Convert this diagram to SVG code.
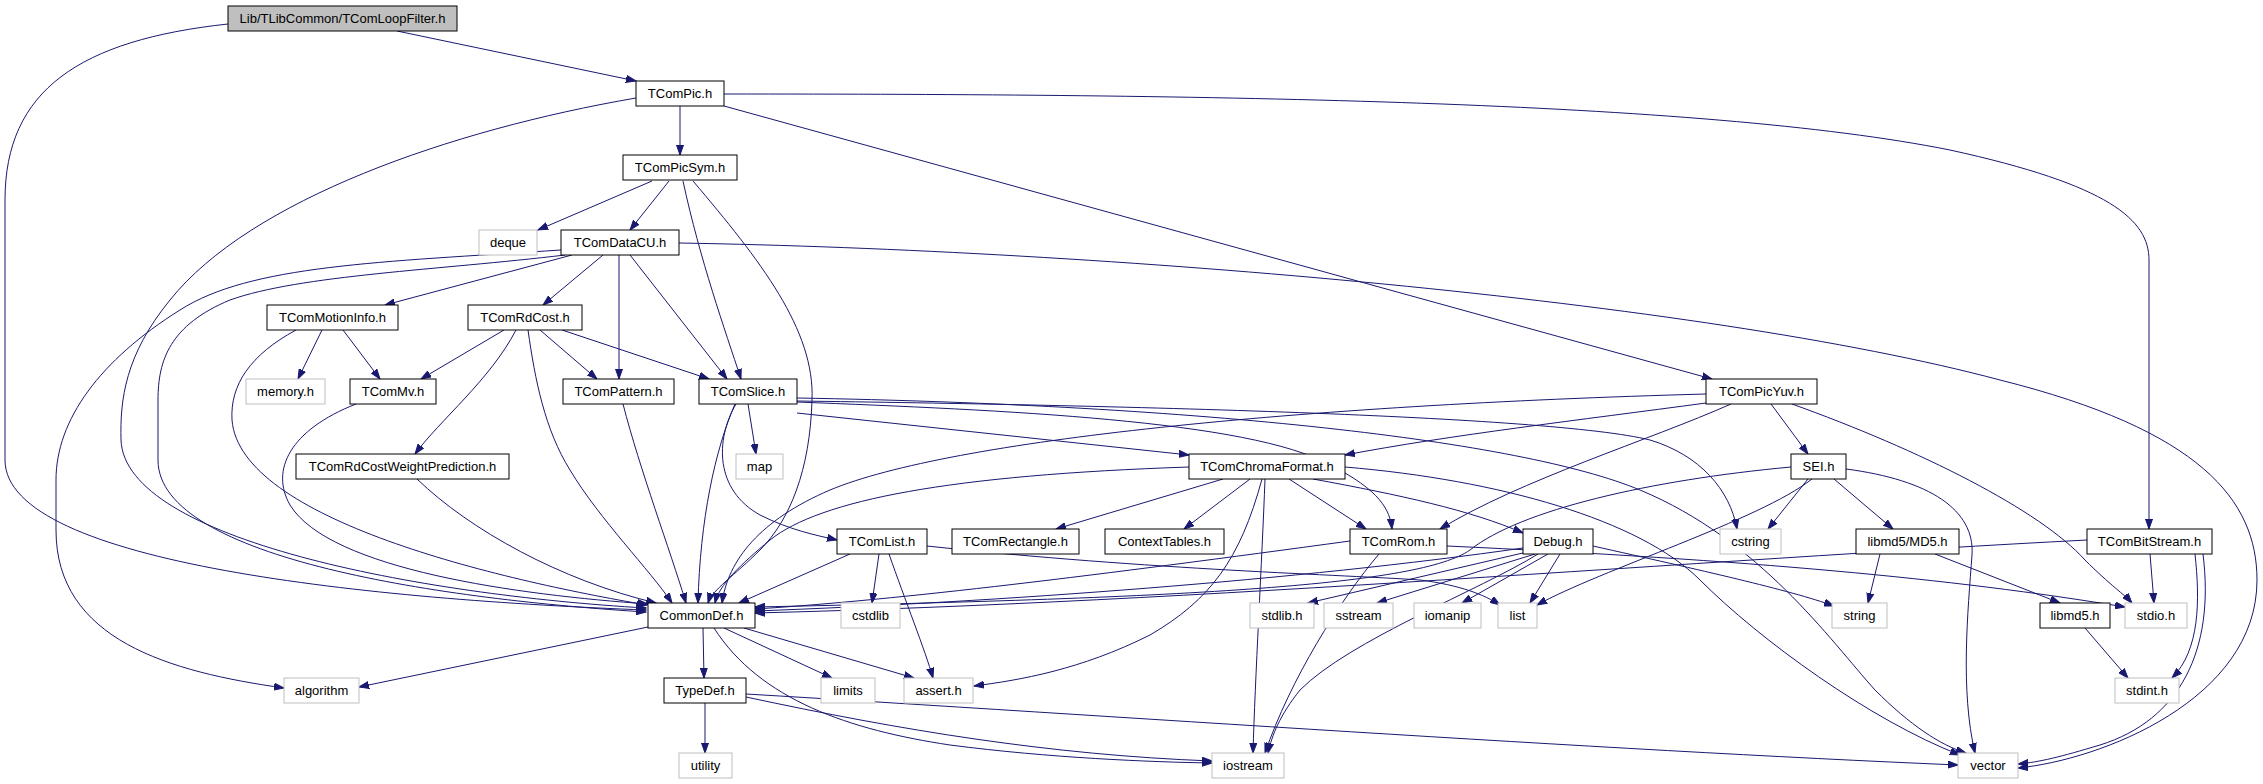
<svg xmlns="http://www.w3.org/2000/svg" width="2263" height="784" viewBox="0 0 2263 784">
<style>
.nd rect{fill:#fff;stroke:#000;stroke-width:1}
.gy rect{fill:#fff;stroke:#bfbfbf;stroke-width:1}
.rt rect{fill:#bfbfbf;stroke:#000;stroke-width:1}
text{font-family:"Liberation Sans",Arial,sans-serif;font-size:13px;text-anchor:middle;fill:#000}
#edges path{fill:none;stroke:#191970;stroke-width:1;marker-end:url(#ah)}
</style>
<defs>
<marker id="ah" markerWidth="11" markerHeight="8" refX="10" refY="4" orient="auto" markerUnits="userSpaceOnUse">
<path d="M0,0.5 L10,4 L0,7.5 z" fill="#191970" stroke="#191970" stroke-width="1"/>
</marker>
</defs>
<rect x="0" y="0" width="2263" height="784" fill="#fff"/>
<g id="edges">
<path d="M397,31 L636,81"/>
<path d="M228,24 C80,40 5,90 5,200 L5,460 C5,565 380,600 646,610"/>
<path d="M680,106 L680,155"/>
<path d="M636,98 C450,130 250,200 170,300 C125,355 120,400 121,440 C125,540 420,595 646,608"/>
<path d="M724,106 L1712,379"/>
<path d="M724,94 C1200,94 1700,100 1950,150 C2110,185 2149,220 2149,260 L2149,529"/>
<path d="M652,181 L538,230"/>
<path d="M669,181 L630,230"/>
<path d="M683,181 C700,260 725,330 741,379"/>
<path d="M693,181 C760,260 815,330 812,400 C810,470 790,520 760,550 C735,575 712,590 708,603"/>
<path d="M572,255 L385,305"/>
<path d="M603,255 L543,305"/>
<path d="M619,255 L619,379"/>
<path d="M630,255 L727,379"/>
<path d="M679,243 C1100,250 1700,300 2000,380 C2200,430 2257,500 2257,580 C2257,700 2100,760 2018,768"/>
<path d="M561,250 C380,262 250,265 180,310 C100,360 56,420 56,480 L56,530 C56,640 170,672 284,688"/>
<path d="M565,255 C440,270 300,275 230,300 C170,325 158,360 158,400 L158,460 C158,560 450,600 646,612"/>
<path d="M322,330 L298,379"/>
<path d="M343,330 L380,379"/>
<path d="M296,330 C250,355 230,385 232,420 C240,520 500,580 647,605"/>
<path d="M504,330 L421,379"/>
<path d="M516,330 C490,380 440,420 415,454"/>
<path d="M528,330 C535,380 545,430 570,470 C600,520 650,570 672,603"/>
<path d="M540,330 L597,379"/>
<path d="M562,330 L709,379"/>
<path d="M356,404 C290,430 270,470 290,505 C330,570 520,595 648,604"/>
<path d="M623,404 C640,470 670,550 686,603"/>
<path d="M417,479 C470,530 560,580 656,603"/>
<path d="M748,404 L756,454"/>
<path d="M736,404 C715,440 715,490 760,515 C790,530 815,535 837,540"/>
<path d="M735,404 C715,450 700,520 698,603"/>
<path d="M797,413 L1189,455"/>
<path d="M797,402 C1000,410 1250,420 1330,465 C1380,490 1390,510 1392,529"/>
<path d="M797,401 C1100,405 1550,415 1650,440 C1700,455 1730,490 1737,529"/>
<path d="M797,398 C1200,405 1520,440 1640,490 C1760,540 1830,640 1875,690 C1910,725 1940,745 1966,753"/>
<path d="M1706,394 C1300,405 950,440 830,490 C760,520 728,560 722,603"/>
<path d="M1706,403 C1580,420 1450,435 1345,455"/>
<path d="M1731,404 C1650,440 1520,480 1440,529"/>
<path d="M1771,404 L1808,454"/>
<path d="M1792,404 C1920,450 2040,510 2085,560 C2110,585 2125,595 2132,603"/>
<path d="M1189,467 C950,475 820,500 770,540 C740,565 719,585 715,603"/>
<path d="M1223,479 L1056,529"/>
<path d="M1250,479 L1184,529"/>
<path d="M1289,479 L1366,529"/>
<path d="M1313,479 C1400,495 1470,510 1523,533"/>
<path d="M1262,479 C1240,560 1210,600 1150,635 C1080,670 1020,680 974,686"/>
<path d="M1265,479 C1262,560 1255,680 1253,753"/>
<path d="M1345,467 C1500,480 1640,520 1700,580 C1760,640 1870,720 1960,755"/>
<path d="M1791,467 C1650,480 1520,510 1470,550 C1420,585 1200,598 755,607"/>
<path d="M1808,479 L1768,529"/>
<path d="M1834,479 L1893,529"/>
<path d="M1812,479 C1760,520 1600,570 1537,605"/>
<path d="M1846,469 C1930,480 1975,510 1972,555 C1968,610 1960,690 1975,753"/>
<path d="M850,554 L739,603"/>
<path d="M879,554 L872,603"/>
<path d="M889,554 C905,600 925,650 933,678"/>
<path d="M927,546 C1150,570 1350,575 1420,580 C1460,585 1485,595 1500,605"/>
<path d="M1350,541 C1100,575 900,600 755,609"/>
<path d="M1447,546 C1750,560 1950,578 2125,607"/>
<path d="M1379,554 C1340,600 1290,680 1265,753"/>
<path d="M1523,548 C1300,580 1000,602 755,611"/>
<path d="M1527,552 L1308,603"/>
<path d="M1535,554 L1377,603"/>
<path d="M1548,554 L1462,603"/>
<path d="M1560,554 L1530,603"/>
<path d="M1593,546 C1700,570 1790,590 1834,606"/>
<path d="M1538,554 C1480,590 1350,640 1300,690 C1280,715 1272,735 1268,753"/>
<path d="M1880,554 L1868,603"/>
<path d="M1935,554 L2060,603"/>
<path d="M2087,540 C1700,560 1200,602 755,613"/>
<path d="M2150,554 L2154,603"/>
<path d="M2195,554 C2200,600 2200,650 2172,678"/>
<path d="M2203,554 C2215,650 2180,720 2100,745 C2060,757 2040,762 2018,764"/>
<path d="M2085,628 L2128,678"/>
<path d="M648,627 L359,687"/>
<path d="M703,628 L704,678"/>
<path d="M724,628 L832,678"/>
<path d="M744,628 L914,678"/>
<path d="M714,628 C760,700 850,730 950,745 C1050,758 1150,762 1212,763"/>
<path d="M705,703 L705,753"/>
<path d="M746,697 C900,730 1050,755 1212,761"/>
<path d="M746,694 C1100,715 1600,750 1958,765"/>
</g>
<g id="n0" class="rt"><rect x="228" y="6" width="229" height="25"/><text x="342.5" y="23">Lib/TLibCommon/TComLoopFilter.h</text></g>
<g id="n1" class="nd"><rect x="636" y="81" width="88" height="25"/><text x="680" y="98">TComPic.h</text></g>
<g id="n2" class="nd"><rect x="623" y="155" width="114" height="25"/><text x="680" y="172">TComPicSym.h</text></g>
<g id="n3" class="gy"><rect x="479" y="230" width="58" height="25"/><text x="508" y="247">deque</text></g>
<g id="n4" class="nd"><rect x="561" y="230" width="118" height="25"/><text x="620" y="247">TComDataCU.h</text></g>
<g id="n5" class="nd"><rect x="267" y="305" width="131" height="25"/><text x="332.5" y="322">TComMotionInfo.h</text></g>
<g id="n6" class="nd"><rect x="468" y="305" width="114" height="25"/><text x="525" y="322">TComRdCost.h</text></g>
<g id="n7" class="gy"><rect x="246" y="379" width="79" height="25"/><text x="285.5" y="396">memory.h</text></g>
<g id="n8" class="nd"><rect x="350" y="379" width="86" height="25"/><text x="393" y="396">TComMv.h</text></g>
<g id="n9" class="nd"><rect x="563" y="379" width="111" height="25"/><text x="618.5" y="396">TComPattern.h</text></g>
<g id="n10" class="nd"><rect x="699" y="379" width="98" height="25"/><text x="748" y="396">TComSlice.h</text></g>
<g id="n11" class="nd"><rect x="1706" y="379" width="111" height="25"/><text x="1761.5" y="396">TComPicYuv.h</text></g>
<g id="n12" class="nd"><rect x="296" y="454" width="213" height="25"/><text x="402.5" y="471">TComRdCostWeightPrediction.h</text></g>
<g id="n13" class="gy"><rect x="736" y="454" width="47" height="25"/><text x="759.5" y="471">map</text></g>
<g id="n14" class="nd"><rect x="1189" y="454" width="156" height="25"/><text x="1267" y="471">TComChromaFormat.h</text></g>
<g id="n15" class="nd"><rect x="1791" y="454" width="55" height="25"/><text x="1818.5" y="471">SEI.h</text></g>
<g id="n16" class="nd"><rect x="837" y="529" width="90" height="25"/><text x="882" y="546">TComList.h</text></g>
<g id="n17" class="nd"><rect x="952" y="529" width="127" height="25"/><text x="1015.5" y="546">TComRectangle.h</text></g>
<g id="n18" class="nd"><rect x="1105" y="529" width="119" height="25"/><text x="1164.5" y="546">ContextTables.h</text></g>
<g id="n19" class="nd"><rect x="1350" y="529" width="97" height="25"/><text x="1398.5" y="546">TComRom.h</text></g>
<g id="n20" class="nd"><rect x="1523" y="529" width="70" height="25"/><text x="1558" y="546">Debug.h</text></g>
<g id="n21" class="gy"><rect x="1720" y="529" width="61" height="25"/><text x="1750.5" y="546">cstring</text></g>
<g id="n22" class="nd"><rect x="1856" y="529" width="103" height="25"/><text x="1907.5" y="546">libmd5/MD5.h</text></g>
<g id="n23" class="nd"><rect x="2087" y="529" width="125" height="25"/><text x="2149.5" y="546">TComBitStream.h</text></g>
<g id="n24" class="nd"><rect x="648" y="603" width="107" height="25"/><text x="701.5" y="620">CommonDef.h</text></g>
<g id="n25" class="gy"><rect x="841" y="603" width="59" height="25"/><text x="870.5" y="620">cstdlib</text></g>
<g id="n26" class="gy"><rect x="1250" y="603" width="64" height="25"/><text x="1282" y="620">stdlib.h</text></g>
<g id="n27" class="gy"><rect x="1324" y="603" width="69" height="25"/><text x="1358.5" y="620">sstream</text></g>
<g id="n28" class="gy"><rect x="1414" y="603" width="67" height="25"/><text x="1447.5" y="620">iomanip</text></g>
<g id="n29" class="gy"><rect x="1498" y="603" width="39" height="25"/><text x="1517.5" y="620">list</text></g>
<g id="n30" class="gy"><rect x="1832" y="603" width="55" height="25"/><text x="1859.5" y="620">string</text></g>
<g id="n31" class="nd"><rect x="2040" y="603" width="70" height="25"/><text x="2075" y="620">libmd5.h</text></g>
<g id="n32" class="gy"><rect x="2125" y="603" width="62" height="25"/><text x="2156" y="620">stdio.h</text></g>
<g id="n33" class="gy"><rect x="284" y="678" width="75" height="25"/><text x="321.5" y="695">algorithm</text></g>
<g id="n34" class="nd"><rect x="664" y="678" width="82" height="25"/><text x="705" y="695">TypeDef.h</text></g>
<g id="n35" class="gy"><rect x="821" y="678" width="54" height="25"/><text x="848" y="695">limits</text></g>
<g id="n36" class="gy"><rect x="904" y="678" width="69" height="25"/><text x="938.5" y="695">assert.h</text></g>
<g id="n37" class="gy"><rect x="2115" y="678" width="64" height="25"/><text x="2147" y="695">stdint.h</text></g>
<g id="n38" class="gy"><rect x="679" y="753" width="53" height="25"/><text x="705.5" y="770">utility</text></g>
<g id="n39" class="gy"><rect x="1212" y="753" width="72" height="25"/><text x="1248" y="770">iostream</text></g>
<g id="n40" class="gy"><rect x="1958" y="753" width="60" height="25"/><text x="1988" y="770">vector</text></g>
</svg>
